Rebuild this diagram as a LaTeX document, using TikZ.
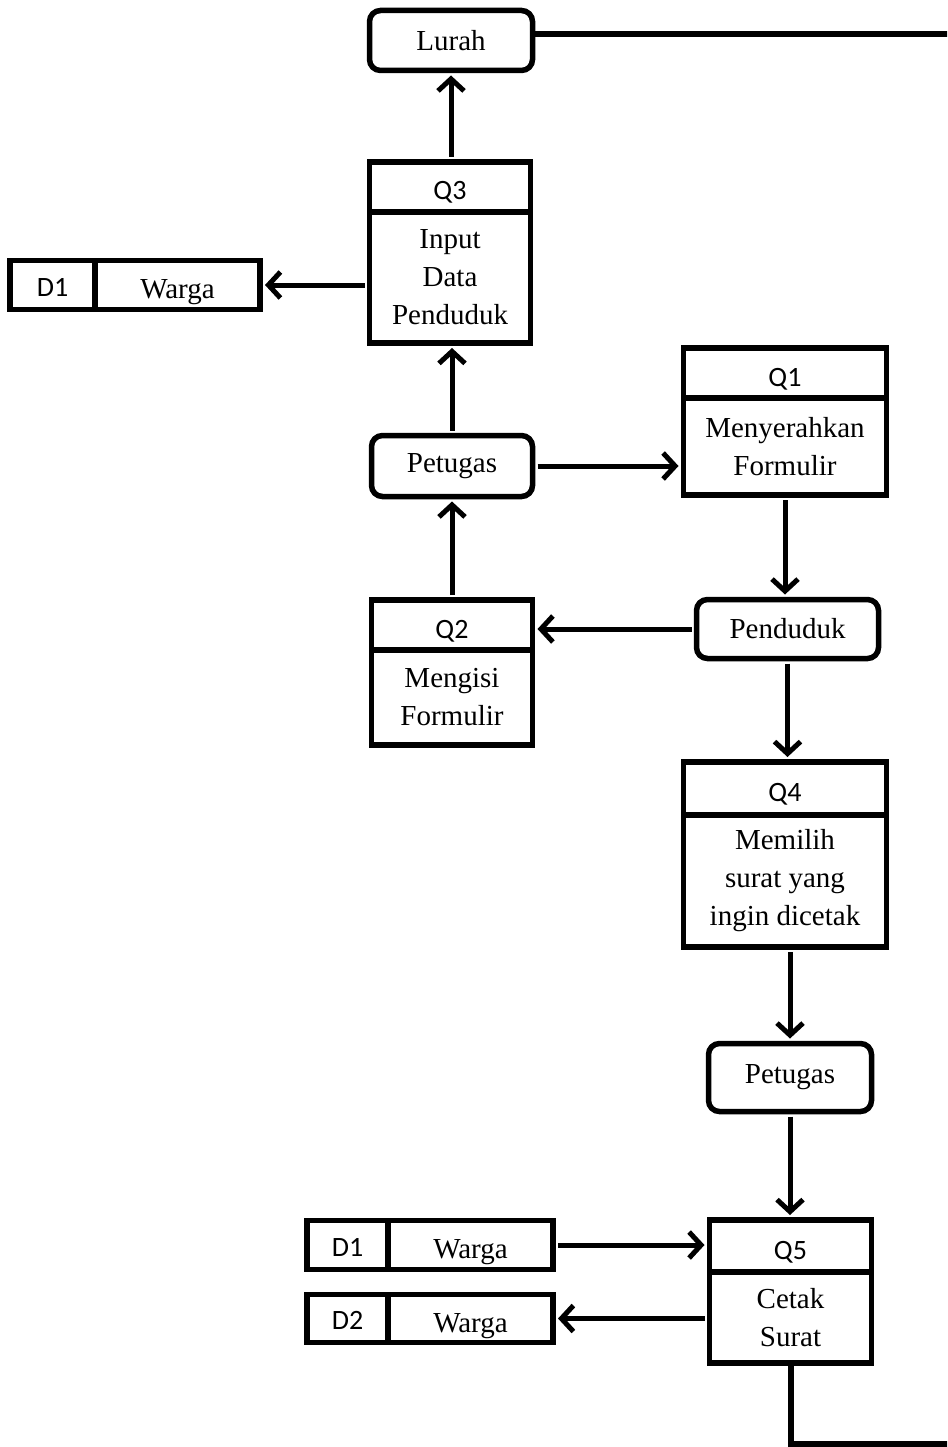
\documentclass[tikz,border=0pt]{standalone}
\usepackage{fontspec}
\setmainfont{Liberation Serif}
\newfontfamily\labelfont{Carlito}
\usetikzlibrary{arrows.meta}

\begin{document}
\begin{tikzpicture}[>={Straight Barb[length=12pt,width=26pt]},x=1pt,y=-1pt]
  \tikzset{
    box/.style={draw,line width=5.5pt,inner sep=0pt,outer sep=0pt,align=center},
    actor/.style={box,rounded corners=11pt,font=\fontsize{29}{38}\selectfont},
    head/.style={box,font=\labelfont\fontsize{28}{30}\selectfont,
      text height=26pt,text depth=0pt},
    body/.style={box,anchor=north,font=\fontsize{29}{38}\selectfont},
    storeid/.style={box,font=\labelfont\fontsize{28}{30}\selectfont,
      text height=22pt,text depth=0pt},
    storename/.style={box,font=\fontsize{29}{38}\selectfont,
      text height=27pt,text depth=0pt},
    flow/.style={->,line width=5pt,shorten <=5pt,shorten >=5pt},
    edge/.style={line width=6pt}
  }
  \useasboundingbox (0,0) rectangle (947,1447);
  \clip (0,0) rectangle (947,1447);

  \node[actor,minimum width=163pt,minimum height=60pt] (lurah) at (451,40.5) {Lurah};

  \node[head,minimum width=161pt,minimum height=50pt] (q3head) at (450,187) {Q3};
  \node[body,minimum width=161pt,minimum height=131pt] (q3) at (q3head.south)
    {Input\\Data\\Penduduk};

  \node[storeid,minimum width=85pt,minimum height=49pt] (d1id) at (52.5,285) {D1};
  \node[storename,minimum width=165pt,minimum height=49pt] (d1name) at (177.5,285) {Warga};

  \node[actor,minimum width=161pt,minimum height=61pt] (pet1) at (452,466) {Petugas};

  \node[head,minimum width=203pt,minimum height=50pt] (q1head) at (785,373) {Q1};
  \node[body,minimum width=203pt,minimum height=97pt] (q1) at (q1head.south)
    {Menyerahkan\\Formulir};

  \node[actor,minimum width=182pt,minimum height=59pt] (pend) at (787.5,629) {Penduduk};

  \node[head,minimum width=161pt,minimum height=50pt] (q2head) at (452,625) {Q2};
  \node[body,minimum width=161pt,minimum height=95pt] (q2) at (q2head.south)
    {Mengisi\\Formulir};

  \node[head,minimum width=203pt,minimum height=53pt] (q4head) at (785,788.5) {Q4};
  \node[body,minimum width=203pt,minimum height=132pt] (q4) at (q4head.south)
    {Memilih\\surat yang\\ingin dicetak};

  \node[actor,minimum width=163pt,minimum height=68pt] (pet2) at (790,1077.5) {Petugas};

  \node[head,minimum width=162pt,minimum height=52pt] (q5head) at (790.5,1246) {Q5};
  \node[body,minimum width=162pt,minimum height=91pt] (q5) at (q5head.south)
    {Cetak\\Surat};

  \node[storeid,minimum width=81pt,minimum height=49pt] (d1bid) at (347.5,1245) {D1};
  \node[storename,minimum width=165pt,minimum height=49pt] (d1bname) at (470.5,1245) {Warga};

  \node[storeid,minimum width=81pt,minimum height=48pt] (d2id) at (347.5,1318.5) {D2};
  \node[storename,minimum width=165pt,minimum height=48pt] (d2name) at (470.5,1318.5) {Warga};

  \coordinate (lurahend) at (960,34);
  \coordinate (printend) at (960,1444);

  \draw[edge] (lurah.east |- lurahend) -- (lurahend);
  \draw[flow] (lurah.south |- q3head.north) -- (lurah.south);
  \draw[flow] (q3.west |- d1name) -- (d1name.east);
  \draw[flow] (pet1.north) -- (pet1.north |- q3.south);
  \draw[flow] (pet1.east) -- (pet1.east -| q1.west);
  \draw[flow] (q1.south) -- (q1.south |- pend.north);
  \draw[flow] (pend.west) -- (pend.west -| q2head.east);
  \draw[flow] (q2head.north) -- (q2head.north |- pet1.south);
  \draw[flow] (pend.south) -- (pend.south |- q4head.north);
  \draw[flow] (pet2.north |- q4.south) -- (pet2.north);
  \draw[flow] (pet2.south) -- (pet2.south |- q5head.north);
  \draw[flow] (d1bname.east) -- (d1bname.east -| q5head.west);
  \draw[flow] (q5.west |- d2name) -- (d2name.east);
  \draw[edge] (q5.south) -- (q5.south |- printend) -- (printend);
\end{tikzpicture}
\end{document}
